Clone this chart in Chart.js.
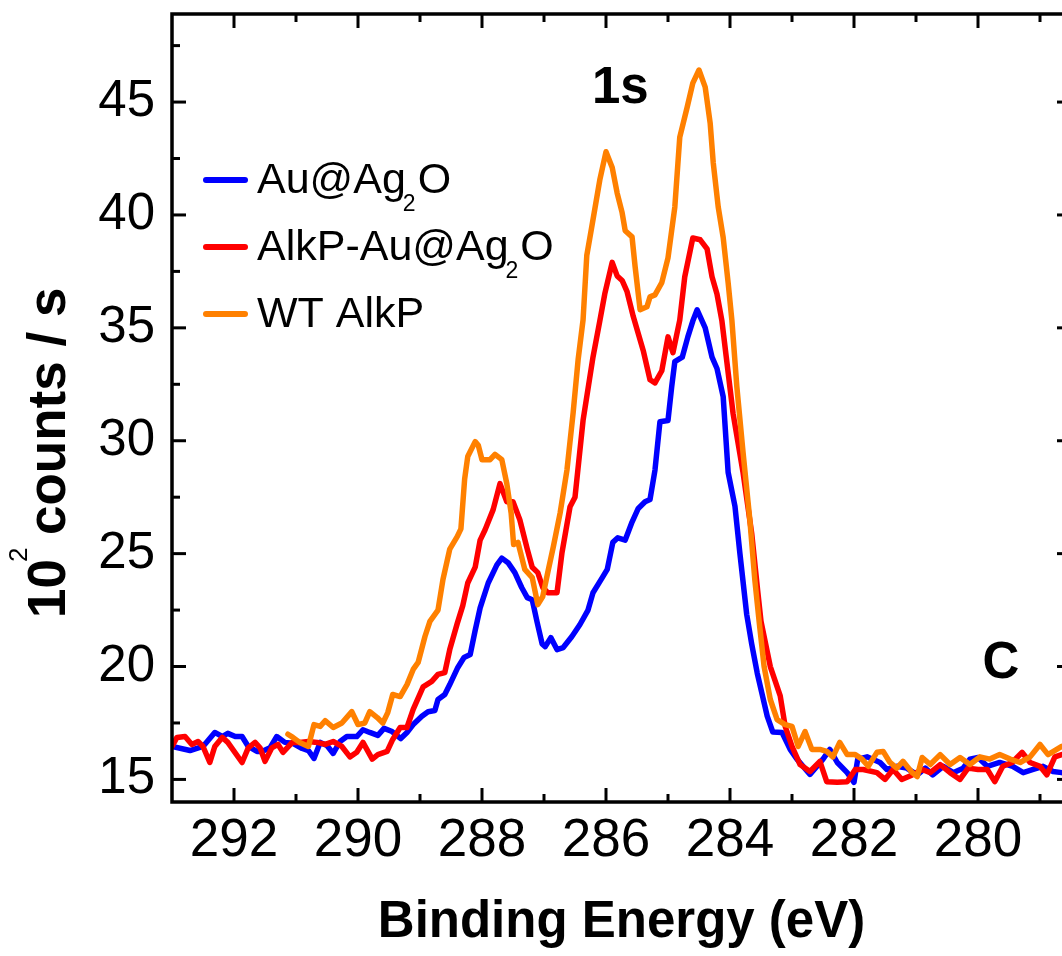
<!DOCTYPE html>
<html>
<head>
<meta charset="utf-8">
<script src="https://cdn.jsdelivr.net/npm/chart.js@4.4.1/dist/chart.umd.min.js"></script>
<style>
  html, body { margin: 0; padding: 0; background: #fff; overflow: hidden; }
  #wrap { position: absolute; left: 0; top: 0; width: 1090px; height: 956px; }
</style>
</head>
<body>
<div id="wrap"><canvas id="c"></canvas></div>
<script>
// ---------------- DATA ----------------
const seriesLabels = ["Au@Ag\u2082O", "AlkP-Au@Ag\u2082O", "WT AlkP"];
const seriesColors = ["#0000FF", "#FF0000", "#FF8000"];

const blueEnergy = [293.0,292.71,292.5,292.31,292.19,292.1,291.98,291.87,291.77,291.63,291.55,291.42,291.31,291.18,291.05,290.9,290.8,290.71,290.61,290.5,290.4,290.29,290.18,290.02,289.92,289.81,289.68,289.58,289.45,289.31,289.21,289.11,288.97,288.87,288.76,288.71,288.6,288.52,288.39,288.29,288.19,288.11,288.03,287.9,287.76,287.68,287.58,287.47,287.36,287.27,287.19,287.11,287.03,286.98,286.89,286.79,286.69,286.55,286.42,286.29,286.21,286.06,285.98,285.89,285.81,285.69,285.58,285.48,285.37,285.29,285.21,285.13,285.0,284.94,284.89,284.77,284.68,284.6,284.53,284.4,284.29,284.21,284.11,284.03,283.92,283.84,283.73,283.65,283.56,283.4,283.31,283.16,283.03,282.92,282.71,282.5,282.39,282.27,282.11,282.0,281.94,281.79,281.58,281.47,281.31,281.15,280.98,280.85,280.73,280.56,280.4,280.24,280.13,280.0,279.85,279.65,279.44,279.27,279.11,278.95,278.79,278.65];
const blueCounts = [16.46,16.28,16.46,17.08,16.9,17.04,16.9,16.9,16.46,16.24,16.24,16.4,16.9,16.64,16.6,16.37,16.28,15.93,16.64,16.5,16.15,16.68,16.9,16.9,17.2,17.08,16.95,17.26,17.12,16.81,17.08,17.43,17.8,18.0,18.05,18.54,18.76,19.2,19.96,20.4,20.53,21.6,22.6,23.7,24.5,24.8,24.6,24.16,23.5,23.05,22.96,21.95,21.0,20.88,21.28,20.75,20.84,21.33,21.86,22.5,23.27,23.94,24.3,25.5,25.7,25.6,26.4,27.0,27.3,27.4,28.7,30.84,30.9,32.4,33.5,33.7,34.6,35.3,35.8,35.0,33.7,33.2,31.95,28.6,27.1,25.0,22.3,21.0,19.7,17.8,17.1,17.08,16.33,15.9,15.22,15.9,16.33,15.75,15.3,14.87,15.9,16.0,15.75,15.44,15.58,15.5,15.2,15.5,15.2,15.58,15.3,15.5,15.9,15.97,15.58,15.75,15.58,15.3,15.44,15.58,15.35,15.3];

const redEnergy = [293.0,292.92,292.79,292.68,292.58,292.5,292.39,292.31,292.19,292.1,291.87,291.77,291.66,291.58,291.5,291.39,291.29,291.21,291.06,290.94,290.8,290.66,290.53,290.4,290.26,290.13,290.02,289.92,289.77,289.68,289.53,289.44,289.32,289.21,289.11,288.95,288.81,288.71,288.6,288.52,288.4,288.31,288.23,288.11,288.03,287.95,287.82,287.71,287.6,287.5,287.39,287.27,287.19,287.1,287.02,286.94,286.79,286.71,286.58,286.5,286.37,286.21,286.1,286.02,285.9,285.82,285.74,285.66,285.56,285.4,285.29,285.21,285.1,285.0,284.92,284.81,284.73,284.6,284.48,284.37,284.29,284.21,284.13,284.06,283.95,283.79,283.65,283.55,283.5,283.35,283.19,283.11,283.0,282.87,282.71,282.55,282.44,282.27,282.11,281.98,281.85,281.63,281.5,281.37,281.23,281.06,280.9,280.77,280.61,280.45,280.29,280.16,280.0,279.85,279.73,279.6,279.45,279.29,279.16,279.0,278.89,278.76,278.65];
const redCounts = [16.46,16.86,16.9,16.55,16.68,16.46,15.75,16.46,16.86,16.64,15.75,16.4,16.64,16.4,15.8,16.4,16.55,16.2,16.64,16.64,16.68,16.64,16.55,16.68,16.46,16.0,16.2,16.64,15.9,16.1,16.24,16.77,17.3,17.3,18.1,19.1,19.34,19.65,19.73,20.75,21.9,22.7,23.7,24.4,25.6,26.06,26.95,28.1,27.3,27.3,26.5,25.2,24.4,24.16,23.5,23.27,23.27,25.04,27.08,27.5,30.9,33.7,35.3,36.5,37.9,37.3,37.1,36.6,35.5,34.0,32.7,32.56,33.1,34.6,33.9,35.35,37.26,38.98,38.9,38.5,37.26,36.5,35.3,33.7,31.2,28.6,25.9,23.27,22.0,20.0,18.7,17.35,16.46,15.66,15.35,15.8,14.9,14.87,14.9,15.44,15.44,15.3,15.0,15.44,15.0,15.2,15.44,15.3,15.66,15.3,15.0,15.5,15.44,15.44,14.9,15.58,15.75,16.2,15.75,15.58,15.2,16.0,16.1];

const orangeEnergy = [291.13,291.05,290.94,290.8,290.71,290.61,290.53,290.4,290.26,290.1,290.0,289.89,289.81,289.69,289.6,289.52,289.44,289.32,289.21,289.11,289.03,288.92,288.84,288.71,288.63,288.52,288.4,288.34,288.28,288.23,288.11,288.06,288.0,287.87,287.79,287.68,287.6,287.53,287.49,287.42,287.31,287.19,287.1,287.02,286.94,286.85,286.74,286.63,286.53,286.45,286.37,286.31,286.23,286.1,286.0,285.9,285.82,285.74,285.69,285.58,285.53,285.45,285.34,285.29,285.21,285.1,285.0,284.89,284.81,284.69,284.6,284.5,284.4,284.32,284.27,284.19,284.11,284.03,283.97,283.89,283.79,283.68,283.6,283.53,283.45,283.35,283.24,283.11,283.0,282.9,282.79,282.68,282.55,282.44,282.34,282.23,282.11,281.98,281.87,281.77,281.63,281.53,281.42,281.31,281.21,281.06,280.98,280.9,280.77,280.61,280.45,280.29,280.13,279.97,279.81,279.65,279.48,279.32,279.16,279.0,278.87,278.73,278.65];
const orangeCounts = [17.0,16.86,16.64,16.46,17.43,17.35,17.6,17.3,17.5,18.0,17.43,17.5,18.0,17.74,17.5,17.96,18.76,18.67,19.2,19.87,20.18,21.33,22.0,22.5,23.85,25.2,25.75,26.1,28.3,29.3,29.96,29.8,29.16,29.16,29.4,29.16,28.1,26.8,25.4,25.5,24.3,23.94,22.74,23.1,24.16,25.3,26.8,28.7,31.24,33.58,35.35,38.2,39.47,41.55,42.8,42.1,40.97,40.1,39.3,39.03,37.7,35.8,35.93,36.37,36.46,37.0,38.1,40.35,43.45,44.78,45.84,46.42,45.66,44.07,42.3,40.35,39.0,37.0,35.35,32.4,29.5,26.5,23.85,22.0,20.0,18.54,17.65,17.43,17.35,16.46,17.12,16.33,16.33,16.24,16.0,16.64,16.1,16.1,15.9,15.58,16.2,16.24,15.75,15.5,15.8,15.3,15.13,15.97,15.66,16.1,15.66,15.97,15.66,16.0,15.9,16.1,15.9,15.75,16.0,16.55,16.1,16.33,16.46];

const xTickValues = [292, 290, 288, 286, 284, 282, 280];
const xMinorValues = [291, 289, 287, 285, 283, 281, 279];
const yTickValues = [15, 20, 25, 30, 35, 40, 45];
const yMinorValues = [17.5, 22.5, 27.5, 32.5, 37.5, 42.5, 47.5];

const xTitle = "Binding Energy (eV)";
const yTitleParts = ["10", "2", "counts / s"];
const annotations = [
  { text: "1s", x: 285.77, y: 44.96 },
  { text: "C",  x: 279.63, y: 19.47 }
];

// ---------------- CHART ----------------
const FONT = "'Liberation Sans', Arial, Helvetica, sans-serif";
Chart.defaults.font.family = FONT;
Chart.defaults.color = "#000";

function pts(xs, ys) { return xs.map((v, i) => ({ x: v, y: ys[i] })); }
const seriesData = [pts(blueEnergy, blueCounts), pts(redEnergy, redCounts), pts(orangeEnergy, orangeCounts)];
const drawOrder = [2, 1, 0]; // orange on top

const datasets = seriesLabels.map((lab, i) => ({
  label: lab,
  data: seriesData[i],
  borderColor: seriesColors[i],
  backgroundColor: seriesColors[i],
  borderWidth: 5.5,
  pointRadius: 0,
  tension: 0,
  fill: false,
  borderJoinStyle: 'round',
  borderCapStyle: 'round',
  order: drawOrder[i]
}));

function drawSubText(ctx, str, x, y, mainFont, subFont, subDy) {
  const parts = str.split("\u2082");
  let cx = x;
  parts.forEach((p, idx) => {
    ctx.font = mainFont;
    ctx.fillText(p, cx, y);
    cx += ctx.measureText(p).width;
    if (idx < parts.length - 1) {
      ctx.font = subFont;
      const sx = cx - 3;
      ctx.fillText("2", sx, y + subDy);
      cx = sx + ctx.measureText("2").width + 2;
    }
  });
}

const framePlugin = {
  id: 'frame',
  afterDraw(chart) {
    const { ctx, chartArea: { left, top, right, bottom }, scales: { x, y } } = chart;
    ctx.save();
    ctx.strokeStyle = '#000';
    ctx.lineCap = 'butt';
    ctx.lineWidth = 3;
    const tick = (x1, y1, x2, y2) => { ctx.beginPath(); ctx.moveTo(x1, y1); ctx.lineTo(x2, y2); ctx.stroke(); };
    xTickValues.forEach(v => { const p = x.getPixelForValue(v); tick(p, bottom, p, bottom - 14); tick(p, top, p, top + 14); });
    xMinorValues.forEach(v => { const p = x.getPixelForValue(v); tick(p, bottom, p, bottom - 8); tick(p, top, p, top + 8); });
    yTickValues.forEach(v => { const p = y.getPixelForValue(v); tick(left, p, left + 14, p); tick(right, p, right - 14, p); });
    yMinorValues.forEach(v => { const p = y.getPixelForValue(v); tick(left, p, left + 8, p); tick(right, p, right - 8, p); });
    ctx.lineWidth = 3.5;
    ctx.strokeRect(left, top, right - left, bottom - top);

    // legend
    ctx.fillStyle = '#000';
    ctx.textBaseline = 'alphabetic';
    ctx.textAlign = 'left';
    const legX = 203, legLen = 45, rowY0 = 193, rowGap = 67;
    seriesLabels.forEach((lab, i) => {
      const by = rowY0 + i * rowGap;
      ctx.strokeStyle = seriesColors[i];
      ctx.lineWidth = 6;
      ctx.lineCap = 'round';
      tick(legX + 3, by - 13, legX + legLen - 3, by - 13);
      ctx.fillStyle = '#000';
      drawSubText(ctx, lab, 257, by, "43px " + FONT, "23px " + FONT, 18);
    });

    // annotations
    ctx.font = "bold 51px " + FONT;
    ctx.textAlign = 'center';
    annotations.forEach(a => {
      ctx.fillText(a.text, x.getPixelForValue(a.x), y.getPixelForValue(a.y));
    });

    // y axis title
    ctx.save();
    ctx.translate(65, 618);
    ctx.rotate(-Math.PI / 2);
    ctx.textAlign = 'left';
    ctx.font = "bold 53px " + FONT;
    ctx.fillText(yTitleParts[0], 0, 0);
    const w1 = ctx.measureText(yTitleParts[0]).width;
    ctx.font = "26px " + FONT;
    ctx.fillText(yTitleParts[1], w1 - 3, -38);
    ctx.font = "bold 53px " + FONT;
    ctx.fillText(yTitleParts[2], 83, 0);
    ctx.restore();

    ctx.restore();
  }
};

new Chart(document.getElementById('c'), {
  type: 'line',
  data: { datasets },
  options: {
    responsive: true,
    maintainAspectRatio: false,
    animation: false,
    events: [],
    layout: { padding: { top: 14, right: 19, left: 0, bottom: 0 } },
    plugins: { legend: { display: false }, tooltip: { enabled: false } },
    scales: {
      x: {
        type: 'linear',
        reverse: true,
        min: 278.5,
        max: 293,
        grid: { display: false, drawTicks: false },
        border: { display: false },
        afterBuildTicks: s => { s.ticks = xTickValues.map(v => ({ value: v })); },
        afterFit: s => { s.height = 154; s.paddingLeft = 0; s.paddingRight = 0; },
        ticks: { font: { size: 53 }, color: '#000', padding: 8, maxRotation: 0, autoSkip: false },
        title: { display: true, text: xTitle, font: { size: 51, weight: 'bold' }, color: '#000', padding: { top: 0, bottom: 2 } }
      },
      y: {
        type: 'linear',
        min: 14,
        max: 48.9,
        grid: { display: false, drawTicks: false },
        border: { display: false },
        afterBuildTicks: s => { s.ticks = yTickValues.map(v => ({ value: v })); },
        afterFit: s => { s.width = 172; s.paddingTop = 0; s.paddingBottom = 0; },
        ticks: { font: { size: 51 }, color: '#000', padding: 17, autoSkip: false }
      }
    }
  },
  plugins: [framePlugin]
});
</script>
</body>
</html>
